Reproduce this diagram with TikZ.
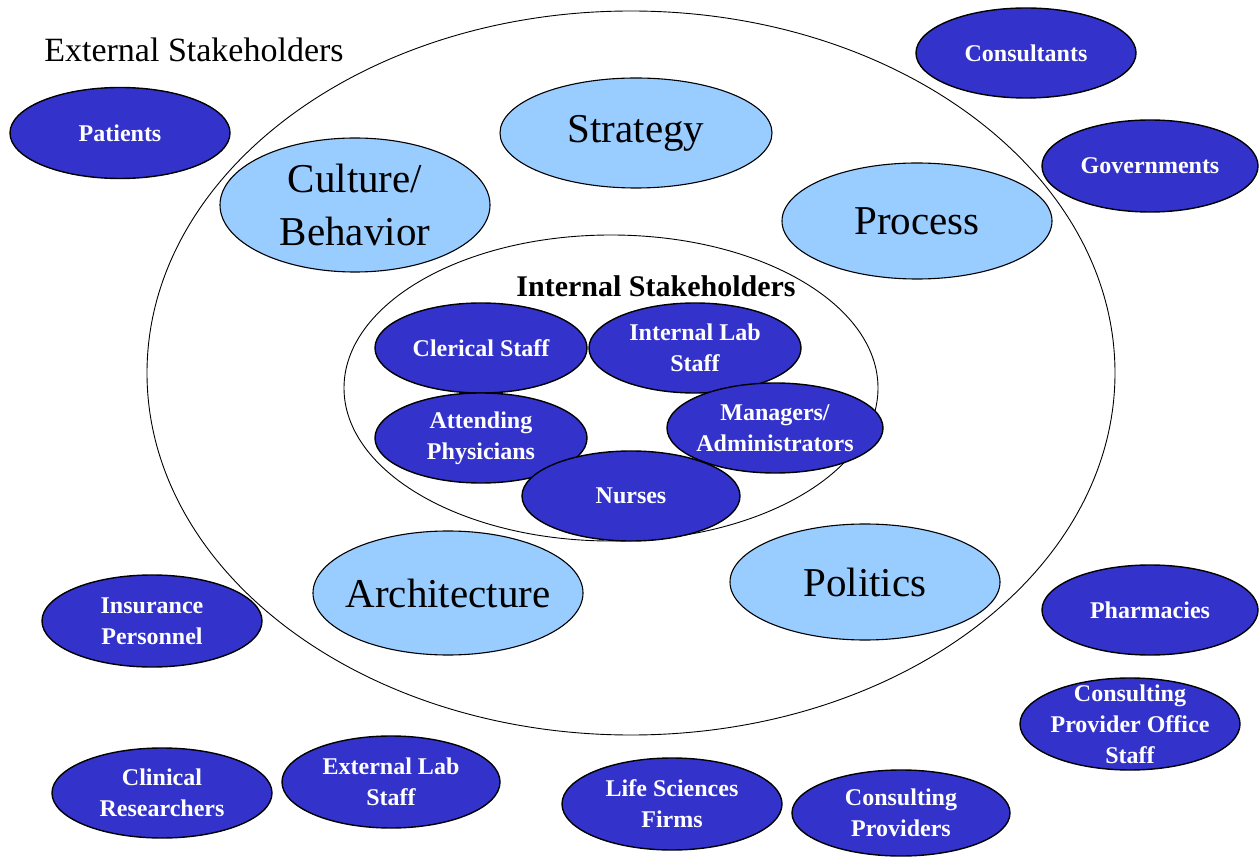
\documentclass[tikz,border=0pt]{standalone}
\usepackage{fontspec}
\setmainfont{Liberation Serif}
\usetikzlibrary{shapes.geometric}
\definecolor{deepblue}{HTML}{3333CC}
\definecolor{skyblue}{HTML}{99CCFF}
\begin{document}
\begin{tikzpicture}[x=1pt,y=-1pt,
  ring/.style={ellipse, draw=black, line width=0.9pt, inner sep=0pt},
  % negative inner sep keeps the ellipse at its minimum size around long labels
  theme/.style={ellipse, draw=black, line width=1.1pt, fill=skyblue, inner sep=-30pt,
    align=center, font=\fontsize{41}{53}\selectfont},
  actor/.style={ellipse, draw=black, line width=1.4pt, fill=deepblue, inner sep=-30pt,
    text=white, align=center, font=\fontsize{24}{31}\selectfont\bfseries},
  title/.style={inner sep=0pt}]
\useasboundingbox (0,0) rectangle (1259,858);
\fill[white] (0,0) rectangle (1259,858);

% outer ring: external stakeholders
\node[ring, minimum width=968pt, minimum height=724pt] (outer) at (631,373) {};
\node[title, font=\fontsize{34}{38}\selectfont] (exttitle) at (194,50) {External Stakeholders};

% organisational themes
\node[theme, minimum width=272pt, minimum height=110pt] (strategy) at (636,133) {Strategy};
\node[theme, minimum width=270pt, minimum height=134pt] (culture) at (355,205) {Culture/\\Behavior};
\node[theme, minimum width=270pt, minimum height=116pt] (process) at (917,221) {Process};
\node[theme, minimum width=270pt, minimum height=124pt] (arch) at (448,593) {Architecture};
\node[theme, minimum width=270pt, minimum height=116pt] (politics) at (865,582) {Politics};

% inner ring: internal stakeholders
\node[ring, minimum width=534pt, minimum height=306pt] (inner) at (611,388) {};
\node[title, font=\fontsize{30}{34}\selectfont\bfseries] (inttitle) at (656,286) {Internal Stakeholders};

\node[actor, minimum width=212pt, minimum height=90pt] (clerical) at (481,348) {Clerical Staff};
\node[actor, minimum width=212pt, minimum height=90pt] (intlab) at (695,348) {Internal Lab\\Staff};
\node[actor, minimum width=212pt, minimum height=90pt] (attending) at (481,438) {Attending\\Physicians};
\node[actor, minimum width=216pt, minimum height=90pt] (managers) at (775,428) {Managers/\\Administrators};
\node[actor, minimum width=218pt, minimum height=90pt] (nurses) at (631,496) {Nurses};

% external stakeholders
\node[actor, minimum width=220pt, minimum height=90pt] (consultants) at (1026,53) {Consultants};
\node[actor, minimum width=220pt, minimum height=91pt] (patients) at (120,133) {Patients};
\node[actor, minimum width=216pt, minimum height=92pt] (governments) at (1150,166) {Governments};
\node[actor, minimum width=220pt, minimum height=92pt] (insurance) at (152,621) {Insurance\\Personnel};
\node[actor, minimum width=216pt, minimum height=90pt] (pharmacies) at (1150,610) {Pharmacies};
\node[actor, minimum width=220pt, minimum height=92pt] (cpostaff) at (1130,724) {Consulting\\Provider Office\\Staff};
\node[actor, minimum width=220pt, minimum height=90pt] (clinical) at (162,793) {Clinical\\Researchers};
\node[actor, minimum width=218pt, minimum height=92pt] (extlab) at (391,782) {External Lab\\Staff};
\node[actor, minimum width=220pt, minimum height=92pt] (lifesci) at (672,804) {Life Sciences\\Firms};
\node[actor, minimum width=218pt, minimum height=86pt] (cproviders) at (901,813) {Consulting\\Providers};
\end{tikzpicture}
\end{document}
